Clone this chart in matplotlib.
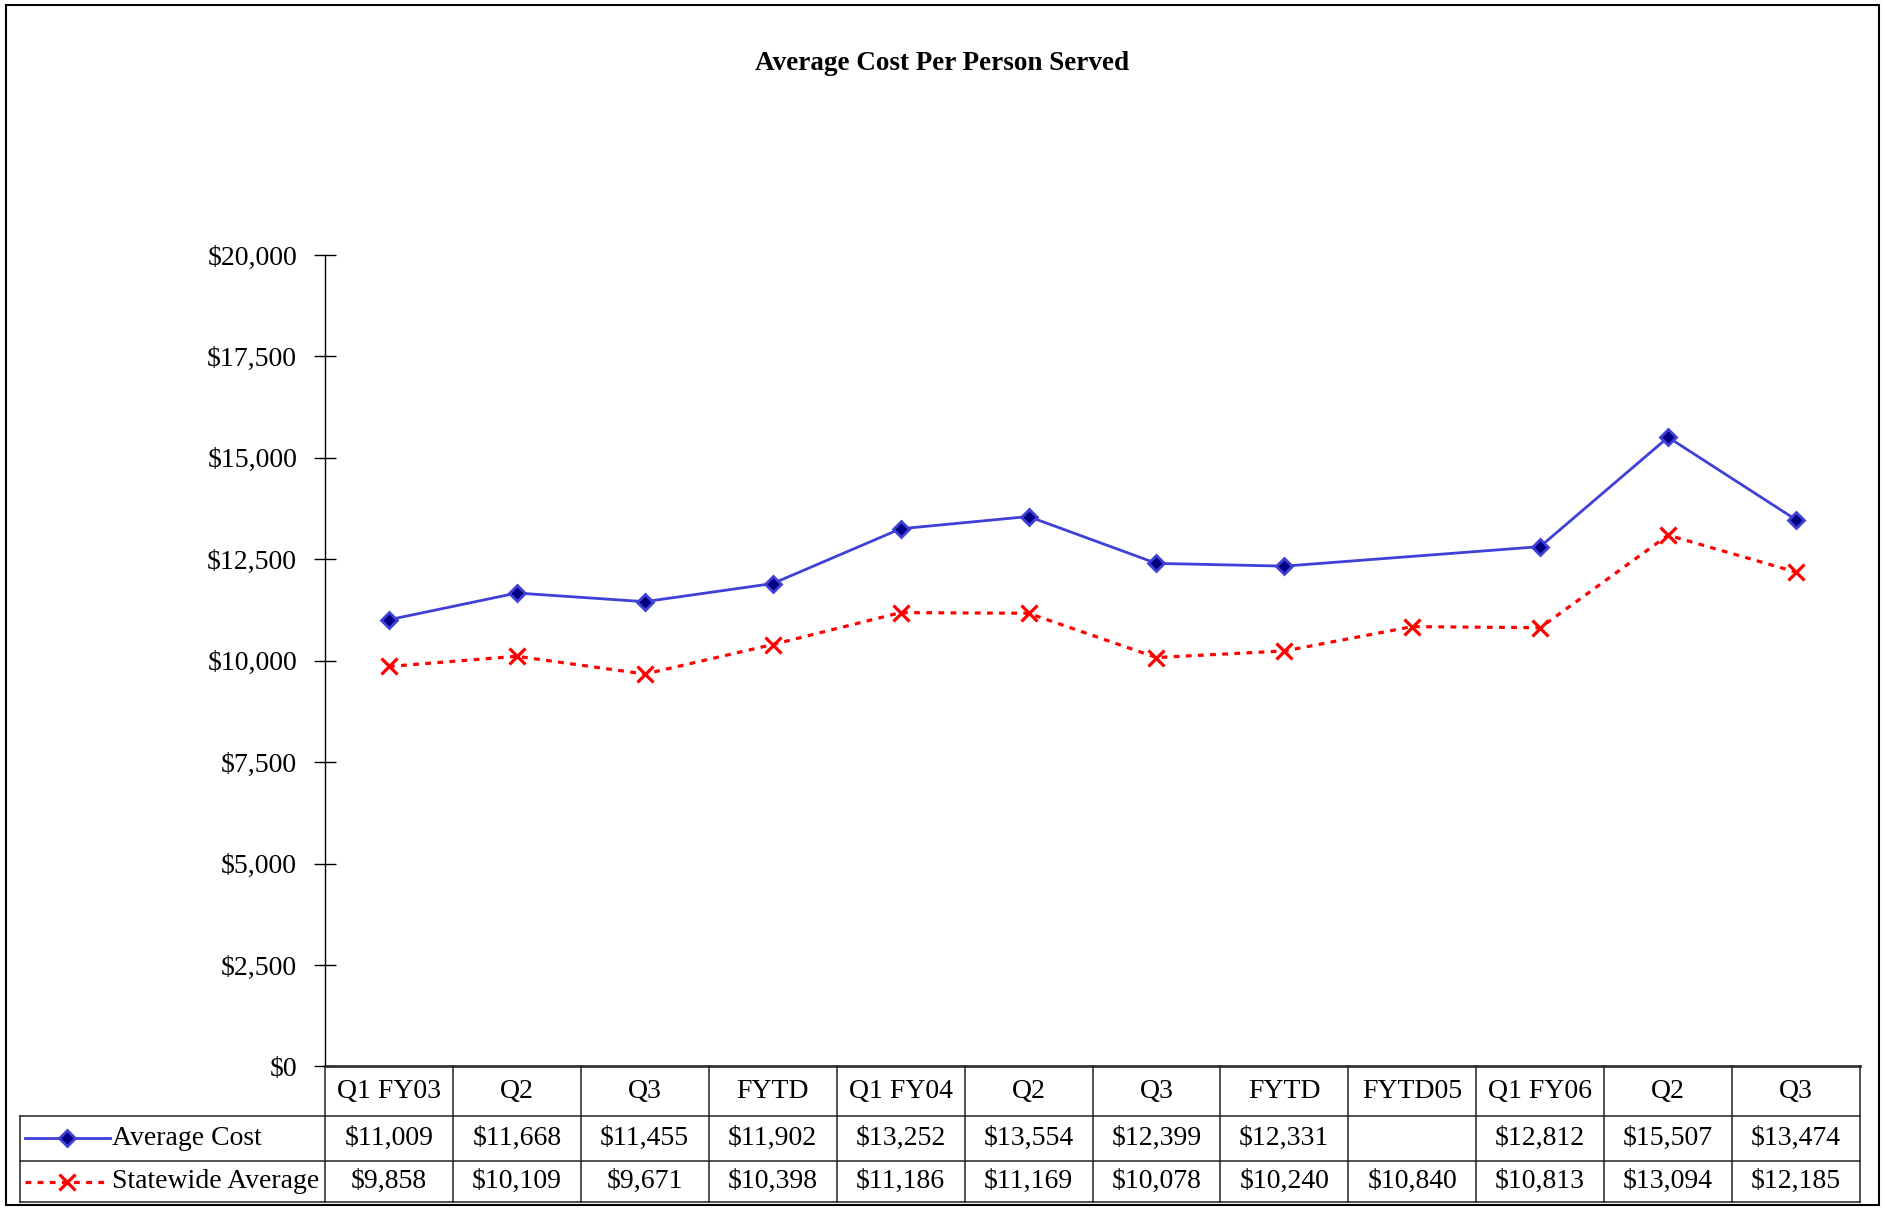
import matplotlib
matplotlib.use("Agg")
from matplotlib import pyplot as plt
from matplotlib import transforms
from matplotlib.lines import Line2D
from matplotlib.patches import Rectangle
import numpy as np

plt.rcParams['font.family'] = ['Liberation Serif', 'DejaVu Serif']

categories = ["Q1 FY03", "Q2", "Q3", "FYTD", "Q1 FY04", "Q2", "Q3", "FYTD",
              "FYTD05", "Q1 FY06", "Q2", "Q3"]
avg_cost = [11009, 11668, 11455, 11902, 13252, 13554, 12399, 12331,
            None, 12812, 15507, 13474]
statewide = [9858, 10109, 9671, 10398, 11186, 11169, 10078, 10240,
             10840, 10813, 13094, 12185]
yticks = [0, 2500, 5000, 7500, 10000, 12500, 15000, 17500, 20000]

W, H = 1885, 1209
fig = plt.figure(figsize=(W / 100, H / 100), dpi=100)


def fx(px):
    return px / W


def fy(py):
    return 1 - py / H


ax_l, ax_r, ax_t, ax_b = 325, 1860, 255, 1066.4
ax = fig.add_axes([fx(ax_l), fy(ax_b), fx(ax_r - ax_l), (ax_b - ax_t) / H])

x = np.arange(len(categories))
blue = "#4040d8"
red_ls = (0, (1.8, 2.0))
xa = [i for i, v in zip(x, avg_cost) if v is not None]
ya = [v for v in avg_cost if v is not None]
ax.plot(xa, ya, color=blue, lw=2, marker="D", ms=8,
        markerfacecolor="#000080", markeredgecolor=blue, mew=2, zorder=3)
ax.plot(x, statewide, color="red", lw=2.3, ls=red_ls, marker="x", ms=11,
        mew=2.3, zorder=3)

ax.set_xlim(-0.5, len(categories) - 0.5)
ax.set_ylim(0, 20000)
ax.set_yticks(yticks)
ax.set_yticklabels([f"${v:,}" for v in yticks], fontsize=20)
ax.tick_params(axis="y", direction="inout", length=16, width=1, pad=12)
ax.set_xticks([])
for s in ["top", "right"]:
    ax.spines[s].set_visible(False)
ax.spines["left"].set_linewidth(1)
ax.spines["bottom"].set_linewidth(2)
ax.spines["bottom"].set_color("#333333")

fig.text(0.5, fy(63), "Average Cost Per Person Served", ha="center",
         va="center", fontsize=19.5, fontweight="bold")

# data table under the axis
tr = transforms.blended_transform_factory(ax.transData, fig.transFigure)
row1_b, row2_b, row3_b = 1115.6, 1161, 1202
tab_left = 20
n = len(categories)
grid = dict(color="#222222", lw=1.1, clip_on=False)
for i in range(n + 1):
    fig.add_artist(Line2D([i - 0.5, i - 0.5], [fy(ax_b), fy(row3_b)],
                          transform=tr, **grid))
for yy in [row1_b, row2_b, row3_b]:
    fig.add_artist(Line2D([fx(tab_left), fx(ax_r)], [fy(yy), fy(yy)],
                          transform=fig.transFigure, **grid))
fig.add_artist(Line2D([fx(tab_left), fx(tab_left)], [fy(row1_b), fy(row3_b)],
                      transform=fig.transFigure, **grid))

ymid1 = fy((ax_b + row1_b) / 2)
ymid2 = fy((row1_b + row2_b) / 2)
ymid3 = fy((row2_b + row3_b) / 2)
for i, c in enumerate(categories):
    fig.text(i, ymid1, c, transform=tr, ha="center", va="center", fontsize=20)
    if avg_cost[i] is not None:
        fig.text(i, ymid2, f"${avg_cost[i]:,}", transform=tr, ha="center",
                 va="center", fontsize=20)
    fig.text(i, ymid3, f"${statewide[i]:,}", transform=tr, ha="center",
             va="center", fontsize=20)

# legend keys in row labels
fig.add_artist(Line2D([fx(25), fx(110)], [ymid2, ymid2], color=blue, lw=2,
                      transform=fig.transFigure))
fig.add_artist(Line2D([fx(67)], [ymid2], color=blue, marker="D", ms=8,
                      markerfacecolor="#000080", markeredgecolor=blue,
                      mew=2, transform=fig.transFigure))
fig.add_artist(Line2D([fx(25), fx(110)], [ymid3, ymid3], color="red", lw=2.3,
                      ls=red_ls, transform=fig.transFigure))
fig.add_artist(Line2D([fx(67)], [ymid3], color="red", marker="x", ms=11,
                      mew=2.3, transform=fig.transFigure))
fig.text(fx(112), ymid2, "Average Cost", ha="left", va="center", fontsize=20)
fig.text(fx(112), ymid3, "Statewide Average", ha="left", va="center",
         fontsize=20)

# outer frame
fig.add_artist(Rectangle((fx(6), fy(1205)), fx(1873), (1205 - 5) / H,
                         transform=fig.transFigure, fill=False,
                         edgecolor="black", lw=1.5))

plt.savefig("out.png", dpi=100)
